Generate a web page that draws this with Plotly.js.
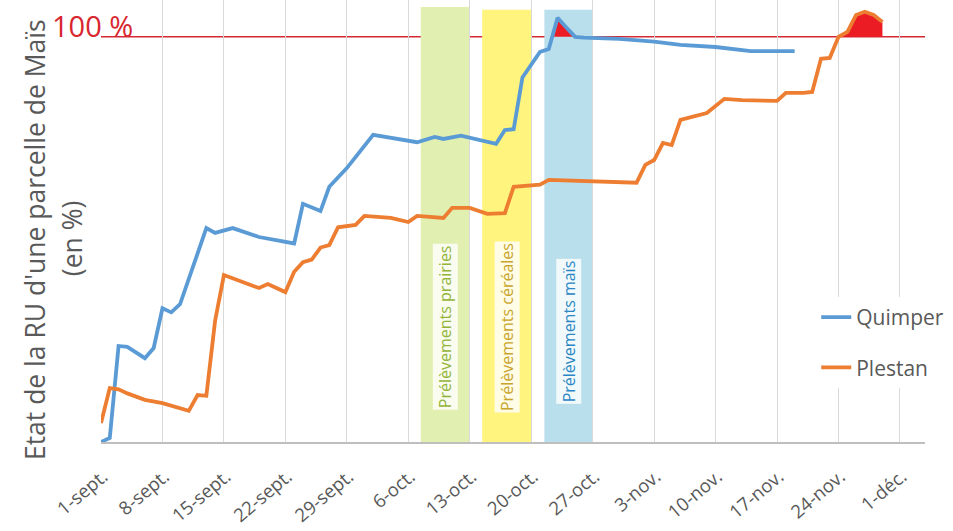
<!DOCTYPE html>
<html>
<head>
<meta charset="utf-8">
<script src="https://cdn.plot.ly/plotly-3.0.1.min.js"></script>
<style>html,body{margin:0;padding:0;background:#fff;}#chart{width:953px;height:531px;}</style>
</head>
<body>
<div id="chart"></div>
<script>
// ---- Data ----
const quimperDates = ['2018-09-01','2018-09-02','2018-09-03','2018-09-04','2018-09-06','2018-09-07','2018-09-08','2018-09-09','2018-09-10','2018-09-13','2018-09-14','2018-09-16','2018-09-19','2018-09-23','2018-09-24','2018-09-26','2018-09-27','2018-09-29','2018-10-02','2018-10-04','2018-10-07','2018-10-09','2018-10-10','2018-10-12','2018-10-14','2018-10-16','2018-10-17','2018-10-18','2018-10-19','2018-10-21','2018-10-22','2018-10-23','2018-10-24','2018-10-25','2018-10-26','2018-10-30','2018-11-03','2018-11-06','2018-11-10','2018-11-14','2018-11-19'];
const quimperValues = [0,1,23.7,23.5,20.7,23.2,33,32,34,52.8,51.6,52.8,50.6,49,58.8,57,63,67.6,75.8,75,74,75.3,74.8,75.6,74.6,73.6,77,77.2,90,96.3,97,104.7,102.3,100,99.8,99.5,98.8,98,97.5,96.5,96.5];

const plestanDates = ['2018-09-01','2018-09-02','2018-09-03','2018-09-04','2018-09-06','2018-09-08','2018-09-11','2018-09-12','2018-09-13','2018-09-14','2018-09-15','2018-09-19','2018-09-20','2018-09-22','2018-09-23','2018-09-24','2018-09-25','2018-09-26','2018-09-27','2018-09-28','2018-09-30','2018-10-01','2018-10-04','2018-10-06','2018-10-07','2018-10-10','2018-10-11','2018-10-13','2018-10-15','2018-10-17','2018-10-18','2018-10-21','2018-10-22','2018-11-01','2018-11-02','2018-11-03','2018-11-04','2018-11-05','2018-11-06','2018-11-07','2018-11-09','2018-11-11','2018-11-13','2018-11-17','2018-11-18','2018-11-20','2018-11-21','2018-11-22','2018-11-23','2018-11-24','2018-11-25','2018-11-26','2018-11-27','2018-11-28','2018-11-29'];
const plestanValues = [4.7,13.3,13,12,10.4,9.6,7.7,11.6,11.4,30,41.2,38,39,37,42,44.4,45,48,48.6,53,53.6,55.8,55.3,54.3,55.8,55.3,57.8,57.8,56.3,56.5,63,63.5,64.7,64,68.4,69.6,73.8,73.3,79.5,80,81.2,84.7,84.4,84.2,86.2,86.2,86.4,94.6,94.8,100,101.2,105.4,106.2,105.4,103.7];

const seriesNames = ['Quimper','Plestan'];
const threshold = 100;
const thresholdLabel = '100 %';

const bandLabels = ['Prélèvements prairies','Prélèvements céréales','Prélèvements maïs'];
const bandStarts = ['2018-10-07 10:00','2018-10-14 10:00','2018-10-21 12:00'];
const bandEnds = ['2018-10-13 00:00','2018-10-20 02:00','2018-10-27 00:00'];
const bandTops = [107.4,106.7,106.7];

const tickDates = ['2018-09-01','2018-09-08','2018-09-15','2018-09-22','2018-09-29','2018-10-06','2018-10-13','2018-10-20','2018-10-27','2018-11-03','2018-11-10','2018-11-17','2018-11-24','2018-12-01'];
const tickLabels = ['1-sept.','8-sept.','15-sept.','22-sept.','29-sept.','6-oct.','13-oct.','20-oct.','27-oct.','3-nov.','10-nov.','17-nov.','24-nov.','1-déc.'];

const yTitleLines = ["Etat de la RU d'une parcelle de Maïs", '(en %)'];

// ---- Styles ----
const FONT = 'Open Sans, Liberation Sans, sans-serif';
const GRAY = '#595959';
const lineColors = ['#5b9bd5','#ed7d31'];
const bandColors = ['#e1efb0','#fff47e','#b9dfec'];
const bandTextColors = ['#93b43a','#c9a42c','#2a86c4'];
const fillRed = '#ec1c24';

function aboveFill(dates, vals, thr) {
  const t = dates.map(d => Date.parse(d));
  const xs = [], ys = [];
  for (let i = 0; i < vals.length; i++) {
    const above = vals[i] >= thr;
    const prevAbove = i > 0 && vals[i-1] >= thr;
    if (above) {
      if (!prevAbove) {
        if (i > 0) {
          const cx = t[i-1] + (thr - vals[i-1]) / (vals[i] - vals[i-1]) * (t[i] - t[i-1]);
          xs.push(cx); ys.push(thr);
        } else { xs.push(t[i]); ys.push(thr); }
      }
      xs.push(t[i]); ys.push(vals[i]);
      if (i === vals.length - 1) { xs.push(t[i]); ys.push(thr); }
    } else if (prevAbove) {
      const cx = t[i-1] + (thr - vals[i-1]) / (vals[i] - vals[i-1]) * (t[i] - t[i-1]);
      xs.push(cx); ys.push(thr);
      xs.push(null); ys.push(null);
    }
  }
  return {x: xs, y: ys};
}

const allDates = [quimperDates, plestanDates];
const allVals = [quimperValues, plestanValues];

const traces = [];
for (let s = 0; s < 2; s++) {
  const f = aboveFill(allDates[s], allVals[s], threshold);
  traces.push({x: f.x, y: f.y, type: 'scatter', mode: 'lines', fill: 'toself',
    fillcolor: fillRed, line: {width: 0}, showlegend: false, hoverinfo: 'skip',
    legendgroup: 'fill'});
}
for (let s = 0; s < 2; s++) {
  traces.push({x: allDates[s], y: allVals[s], type: 'scatter', mode: 'lines',
    name: seriesNames[s], legendgroup: 'g' + s,
    line: {color: lineColors[s], width: 3.8}});
}

const shapes = [];
for (let b = 0; b < bandLabels.length; b++) {
  shapes.push({type: 'rect', xref: 'x', yref: 'y', x0: bandStarts[b], x1: bandEnds[b],
    y0: 0, y1: bandTops[b], fillcolor: bandColors[b], line: {width: 0}, layer: 'below'});
}
shapes.push({type: 'line', xref: 'paper', yref: 'y', x0: 0, x1: 1, y0: threshold, y1: threshold,
  line: {color: '#d42a33', width: 1.5}, layer: 'below'});

const annotations = [];
for (let b = 0; b < bandLabels.length; b++) {
  const mid = (Date.parse(bandStarts[b]) + Date.parse(bandEnds[b])) / 2;
  annotations.push({x: mid, y: b === 2 ? 27.2 : 28.4, xref: 'x', yref: 'y', text: bandLabels[b],
    textangle: -90, showarrow: false, xanchor: 'center', yanchor: 'middle',
    font: {family: FONT, size: 16, color: bandTextColors[b]},
    bgcolor: 'rgba(255,255,255,0.8)', borderpad: 1});
}
annotations.push({x: -0.062, y: threshold, xref: 'paper', yref: 'y', text: thresholdLabel,
  showarrow: false, xanchor: 'left', yanchor: 'bottom', yshift: -10,
  font: {family: FONT, size: 29, color: '#d8262f'}});
annotations.push({x: -0.080, y: 0.457, xref: 'paper', yref: 'paper', text: yTitleLines[0],
  textangle: -90, showarrow: false, xanchor: 'center', yanchor: 'middle',
  font: {family: FONT, size: 26.5, color: GRAY}});
annotations.push({x: -0.035, y: 0.4615, xref: 'paper', yref: 'paper', text: yTitleLines[1],
  textangle: -90, showarrow: false, xanchor: 'center', yanchor: 'middle',
  font: {family: FONT, size: 26.5, color: GRAY}});

const layout = {
  width: 953, height: 531,
  margin: {l: 101, r: 28, t: 0, b: 89, autoexpand: false},
  paper_bgcolor: '#fff', plot_bgcolor: '#fff',
  showlegend: true,
  legend: {x: 0.868, y: 0.328, xanchor: 'left', yanchor: 'top', bgcolor: '#fff',
    font: {family: FONT, size: 21, color: GRAY}, tracegroupgap: 20, traceorder: 'grouped'},
  xaxis: {type: 'date', range: ['2018-09-01', '2018-12-03 20:24'],
    tickvals: tickDates, ticktext: tickLabels, tickangle: -40,
    tickfont: {family: FONT, size: 18.5, color: GRAY},
    showgrid: true, gridcolor: '#d9d9d9', gridwidth: 1,
    showline: true, linecolor: '#bfbfbf', linewidth: 1.5,
    ticks: '', ticklabelstandoff: 15, ticklabelshift: 2, zeroline: false},
  yaxis: {range: [0, 109.1], showgrid: false, showticklabels: false, showline: false,
    zeroline: false, ticks: ''},
  shapes: shapes,
  annotations: annotations,
  font: {family: FONT, color: GRAY}
};

Plotly.newPlot('chart', traces, layout, {staticPlot: true, displayModeBar: false});
</script>
</body>
</html>
